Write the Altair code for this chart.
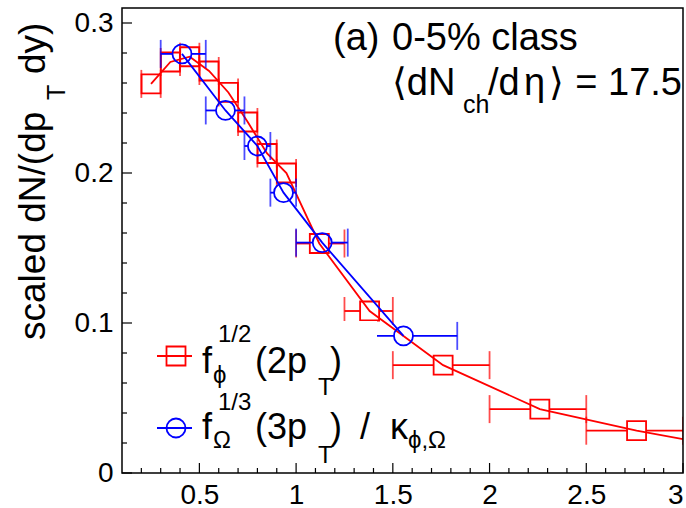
import altair as alt
import pandas as pd

# f_phi^{1/2}(2 pT): marker position, bin edges and scaled yield
phi_x = [0.25, 0.35, 0.45, 0.55, 0.65, 0.75, 0.85, 0.95, 1.12, 1.38, 1.76, 2.26, 2.76]
phi_lo = [0.20, 0.30, 0.40, 0.50, 0.60, 0.70, 0.80, 0.90, 1.00, 1.25, 1.50, 2.00, 2.50]
phi_hi = [0.30, 0.40, 0.50, 0.60, 0.70, 0.80, 0.90, 1.00, 1.25, 1.50, 2.00, 2.50, 3.00]
phi_y = [0.2594, 0.274, 0.2775, 0.268, 0.2537, 0.234, 0.213, 0.200, 0.153, 0.108, 0.0719, 0.0426, 0.0282]
# the phi curve continues to the right edge of the frame
phi_edge_x = [3.0]
phi_edge_y = [0.0226]

# f_Omega^{1/3}(3 pT) / kappa_{phi,Omega}
om_x = [0.41, 0.635, 0.80, 0.935, 1.135, 1.555]
om_lo = [0.30, 0.533, 0.733, 0.867, 1.00, 1.267]
om_hi = [0.533, 0.733, 0.867, 1.00, 1.267, 1.833]
om_y = [0.2794, 0.2417, 0.218, 0.1869, 0.1536, 0.0914]

# axis ticks
x_major = [0.5, 1.0, 1.5, 2.0, 2.5, 3.0]
x_minor = [round(0.1 * i, 2) for i in range(2, 30) if i % 5 != 0]
y_major = [0.0, 0.1, 0.2, 0.3]
y_minor = [round(0.02 * i, 2) for i in range(1, 16) if i % 5 != 0]

X_DOMAIN = [0.1, 3.0]
Y_DOMAIN = [0.0, 0.31]
W, H = 561, 465
FONT = "Liberation Sans"
FONT_SYM = "Liberation Sans, DejaVu Sans"
RED = "#ff0000"
BLUE = "#0000ff"
MARK = 19  # marker width in px

phi = pd.DataFrame({"x": phi_x, "lo": phi_lo, "hi": phi_hi, "y": phi_y})
phi_curve = pd.DataFrame({"x": phi_x + phi_edge_x, "y": phi_y + phi_edge_y})
om = pd.DataFrame({"x": om_x, "lo": om_lo, "hi": om_hi, "y": om_y})
om_curve = pd.DataFrame({"x": om_x, "y": om_y})
one = pd.DataFrame({"k": [0]})

xscale = alt.Scale(domain=X_DOMAIN, nice=False, zero=False)
yscale = alt.Scale(domain=Y_DOMAIN, nice=False, zero=False)
xaxis = alt.Axis(values=x_major, format="~g", title=None, grid=False, ticks=False,
                 domain=False, labelFont=FONT, labelFontSize=28, labelColor="black",
                 labelPadding=8, labelOverlap=False, labelFlush=True)
yaxis = alt.Axis(values=y_major, format="~g", title=None, grid=False, ticks=False,
                 domain=False, labelFont=FONT, labelFontSize=28, labelColor="black",
                 labelPadding=9, labelOverlap=False)


def X(field):
    return alt.X(f"{field}:Q", scale=xscale, axis=xaxis)


def Y(field):
    return alt.Y(f"{field}:Q", scale=yscale, axis=yaxis)


def series(df, curve, color, shape):
    half = MARK / 2
    line = alt.Chart(curve).mark_line(color=color, strokeWidth=1.8, clip=True).encode(
        x=X("x"), y=Y("y"))
    left = alt.Chart(df).mark_rule(color=color, strokeWidth=1.8, x2Offset=-half, clip=True).encode(
        x=X("lo"), x2="x", y=Y("y"))
    right = alt.Chart(df).mark_rule(color=color, strokeWidth=1.8, xOffset=half, clip=True).encode(
        x=X("x"), x2="hi", y=Y("y"))
    cap_lo = alt.Chart(df).mark_tick(color=color, orient="vertical", size=28, thickness=1.8,
                                     clip=True).encode(x=X("lo"), y=Y("y"))
    cap_hi = alt.Chart(df).mark_tick(color=color, orient="vertical", size=28, thickness=1.8,
                                     clip=True).encode(x=X("hi"), y=Y("y"))
    pts = alt.Chart(df).mark_point(shape=shape, size=MARK * MARK, filled=False, color=color,
                                   strokeWidth=1.8, opacity=1, clip=True).encode(
        x=X("x"), y=Y("y"))
    return [line, left, right, cap_lo, cap_hi, pts]


def label(text, x, y, size=35, angle=0, align="left", font=FONT):
    return alt.Chart(one).mark_text(text=text, fontSize=size, font=font, align=align,
                                    baseline="alphabetic", angle=angle, color="black").encode(
        x=alt.value(x), y=alt.value(y))


def legend_entry(y, color, shape):
    seg = alt.Chart(one).mark_rule(color=color, strokeWidth=1.8).encode(
        x=alt.value(35), x2=alt.value(70), y=alt.value(y))
    sym = alt.Chart(one).mark_point(shape=shape, size=MARK * MARK, filled=False, color=color,
                                    strokeWidth=1.8, opacity=1).encode(
        x=alt.value(54), y=alt.value(y))
    return [seg, sym]


# inward ticks on the bottom and left frame edges
xt_major = alt.Chart(pd.DataFrame({"v": x_major})).mark_rule(color="black", strokeWidth=1.2).encode(
    x=X("v"), y=alt.value(H), y2=alt.value(H - 10))
xt_minor = alt.Chart(pd.DataFrame({"v": x_minor})).mark_rule(color="black", strokeWidth=1.2).encode(
    x=X("v"), y=alt.value(H), y2=alt.value(H - 5))
yt_major = alt.Chart(pd.DataFrame({"v": y_major})).mark_rule(color="black", strokeWidth=1.2).encode(
    y=Y("v"), x=alt.value(0), x2=alt.value(10))
yt_minor = alt.Chart(pd.DataFrame({"v": y_minor})).mark_rule(color="black", strokeWidth=1.2).encode(
    y=Y("v"), x=alt.value(0), x2=alt.value(5))

legend_box = alt.Chart(one).mark_rect(color="white").encode(
    x=alt.value(28), x2=alt.value(255), y=alt.value(313), y2=alt.value(454))

frame = alt.Chart(one).mark_rect(fillOpacity=0, stroke="black", strokeWidth=1.5).encode(
    x=alt.value(0), x2=alt.value(W), y=alt.value(0), y2=alt.value(H))

texts = [
    # panel label
    label("(a)", 211, 42, size=38),
    label("0-5% class", 270, 42, size=38),
    label("\u27e8dN", 270, 87, size=38, font=FONT_SYM),
    label("ch", 341, 105, size=25),
    label("/d", 366, 87, size=38),
    label("\u03b7", 402, 87, size=38, font=FONT_SYM),
    label("\u27e9", 427, 87, size=38, font=FONT_SYM),
    label("= 17.5", 560, 87, size=38, align="right"),
    # legend text, phi row
    label("f", 80, 365, size=36),
    label("1/2", 96, 334, size=24),
    label("\u03d5", 91, 375, size=24, font=FONT_SYM),
    label("(2p", 133, 365, size=36),
    label("T", 196, 387, size=24),
    label(")", 208, 365, size=36),
    # legend text, Omega row
    label("f", 80, 431, size=36),
    label("1/3", 96, 402, size=24),
    label("\u03a9", 91, 440, size=24),
    label("(3p", 133, 431, size=36),
    label("T", 196, 455, size=24),
    label(")", 208, 431, size=36),
    label("/", 238, 431, size=36),
    label("\u03ba", 268, 431, size=36),
    label("\u03d5,\u03a9", 286, 440, size=24, font=FONT_SYM),
    # y-axis title
    label("scaled dN/(dp", -77, 332, size=37, angle=270),
    label("T", -57, 92, size=25, angle=270),
    label("dy)", -77, 66, size=37, angle=270),
]

layers = (series(phi, phi_curve, RED, "square")
          + series(om, om_curve, BLUE, "circle")
          + [legend_box]
          + legend_entry(348, RED, "square")
          + legend_entry(420, BLUE, "circle")
          + texts
          + [xt_major, xt_minor, yt_major, yt_minor, frame])

chart = alt.layer(*layers).properties(
    width=W, height=H,
    autosize=alt.AutoSizeParams(type="none"),
    padding={"left": 122, "top": 8, "right": 3, "bottom": 35},
    background="white",
).configure_view(stroke=None)

chart.save("out.html", embed_options={"renderer": "svg", "actions": False})
